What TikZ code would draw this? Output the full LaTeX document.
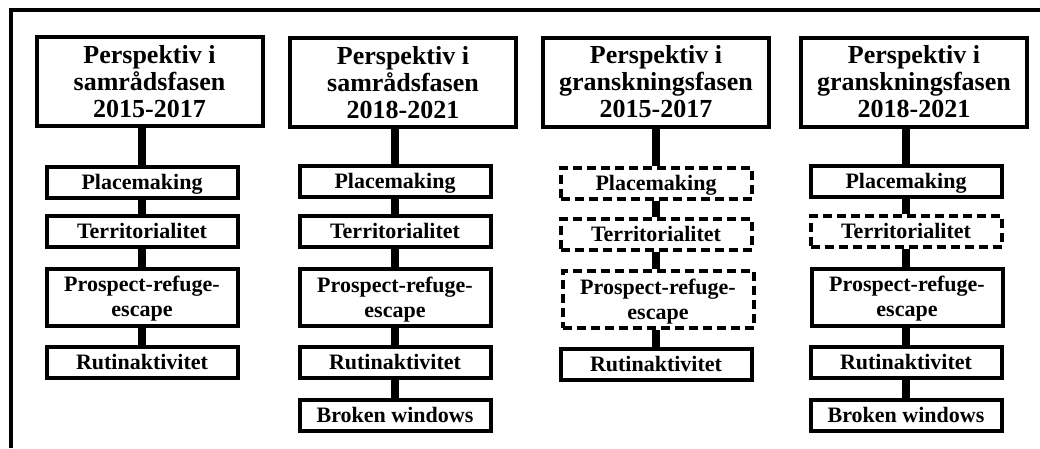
\documentclass[tikz,border=0pt]{standalone}
\usepackage{fontspec}
\setmainfont{Liberation Serif}
\begin{document}
\begin{tikzpicture}[x=1pt,y=-1pt,
  head/.style={draw,line width=4pt,fill=white,rectangle,inner sep=0pt,
    minimum width=226pt,minimum height=89pt,align=center,
    text height=71pt,text depth=0pt,
    font=\fontsize{26}{27}\selectfont\bfseries},
  item/.style={draw,line width=4pt,fill=white,rectangle,inner sep=0pt,
    minimum width=191pt,minimum height=31pt,align=center,
    text height=14.6pt,text depth=0pt,
    font=\fontsize{22}{25}\selectfont\bfseries},
  itemtwo/.style={item,minimum height=57pt,text height=39.6pt},
  dash box/.style={dash pattern=on 9pt off 5pt},
  conn/.style={line width=8pt},
  frame/.style={line width=4pt}]
\useasboundingbox (0,0) rectangle (1040,448);
\coordinate (fA) at (10.5,448);
\coordinate (fB) at (10.5,10);
\coordinate (fC) at (1040,10);
\draw[frame] (fA) -- (fB) -- (fC);
% column 1
\node[head] (H1) at (149.5,81.5) {Perspektiv i\\samrådsfasen\\2015-2017};
\node[item] (P1) at (142,182.5) {Placemaking};
\node[item] (T1) at (142,231.5) {Territorialitet};
\node[itemtwo] (R1) at (142,297) {Prospect-refuge-\\escape};
\node[item] (U1) at (142,362.5) {Rutinaktivitet};
% column 2
\node[head] (H2) at (403,82.5) {Perspektiv i\\samrådsfasen\\2018-2021};
\node[item] (P2) at (395,181) {Placemaking};
\node[item] (T2) at (395,231.5) {Territorialitet};
\node[itemtwo] (R2) at (395,297.5) {Prospect-refuge-\\escape};
\node[item] (U2) at (395,362) {Rutinaktivitet};
\node[item] (B2) at (395,415.5) {Broken windows};
% column 3
\node[head] (H3) at (656,82) {Perspektiv i\\granskningsfasen\\2015-2017};
\node[item,dash box] (P3) at (656,183) {Placemaking};
\node[item,dash box] (T3) at (656,234) {Territorialitet};
\node[itemtwo,dash box] (R3) at (658,299.5) {Prospect-refuge-\\escape};
\node[item] (U3) at (656,364.5) {Rutinaktivitet};
% column 4
\node[head] (H4) at (914,82) {Perspektiv i\\granskningsfasen\\2018-2021};
\node[item] (P4) at (906,181) {Placemaking};
\node[item,dash box] (T4) at (906,231.5) {Territorialitet};
\node[itemtwo] (R4) at (907,297) {Prospect-refuge-\\escape};
\node[item] (U4) at (906,362.5) {Rutinaktivitet};
\node[item] (B4) at (906,415.5) {Broken windows};
% connectors
\draw[conn] (P1.north) -- (P1.north |- H1.south);
\draw[conn] (T1.north) -- (P1.south);
\draw[conn] (R1.north) -- (T1.south);
\draw[conn] (U1.north) -- (R1.south);
\draw[conn] (P2.north) -- (P2.north |- H2.south);
\draw[conn] (T2.north) -- (P2.south);
\draw[conn] (R2.north) -- (T2.south);
\draw[conn] (U2.north) -- (R2.south);
\draw[conn] (B2.north) -- (U2.south);
\draw[conn] (P3.north) -- (P3.north |- H3.south);
\draw[conn] (T3.north) -- (P3.south);
\draw[conn] (R3.north -| T3) -- (T3.south);
\draw[conn] (U3.north) -- (U3.north |- R3.south);
\draw[conn] (P4.north) -- (P4.north |- H4.south);
\draw[conn] (T4.north) -- (P4.south);
\draw[conn] (R4.north -| T4) -- (T4.south);
\draw[conn] (U4.north) -- (U4.north |- R4.south);
\draw[conn] (B4.north) -- (U4.south);
\end{tikzpicture}
\end{document}
